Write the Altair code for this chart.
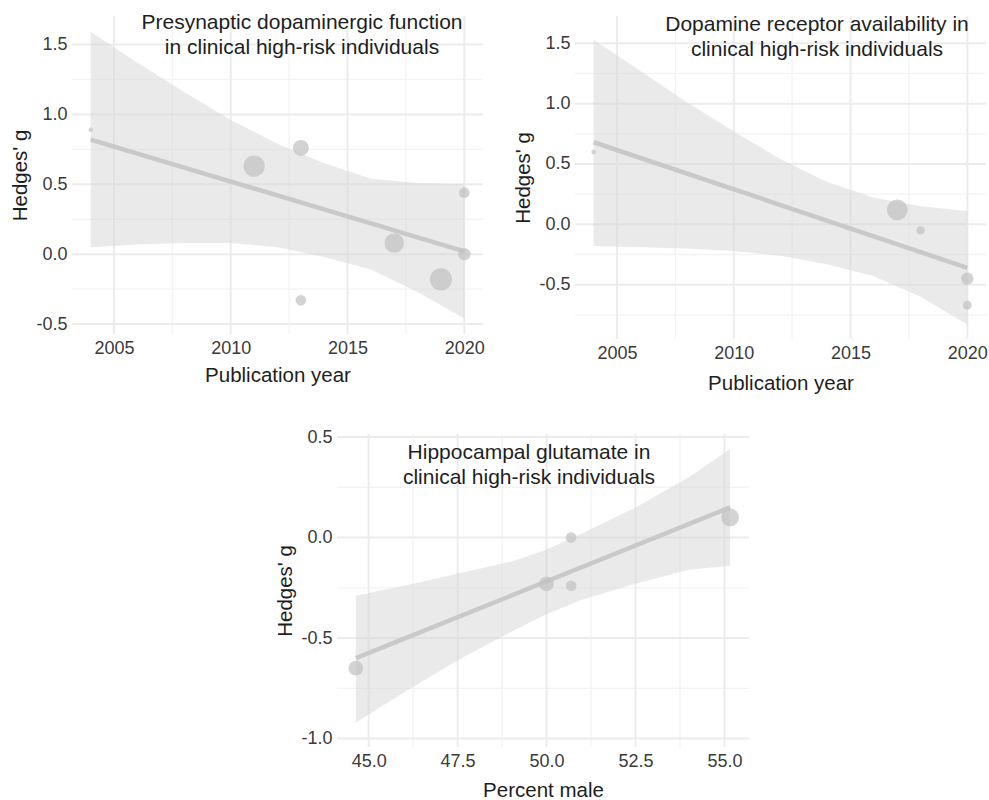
import altair as alt
import pandas as pd

FONT = "Liberation Sans"

# ---------------- Panel A: presynaptic dopaminergic function ----------------
a_year = [2004, 2011, 2013, 2013, 2017, 2019, 2020, 2020]
a_g = [0.89, 0.63, 0.76, -0.33, 0.08, -0.18, 0.44, 0.00]
a_w = [6, 144, 81, 36, 121, 156, 36, 49]
a_fit_x = [2004, 2020]
a_fit_y = [0.82, 0.02]
a_band_x = [2004, 2006, 2008, 2010, 2012, 2014, 2016, 2018, 2020]
a_band_hi = [1.59, 1.37, 1.16, 0.96, 0.79, 0.65, 0.54, 0.51, 0.50]
a_band_lo = [0.05, 0.07, 0.08, 0.08, 0.05, -0.02, -0.11, -0.27, -0.46]
a_title = ["Presynaptic dopaminergic function", "in clinical high-risk individuals"]

# ---------------- Panel B: dopamine receptor availability ----------------
b_year = [2004, 2017, 2018, 2020, 2020]
b_g = [0.60, 0.12, -0.05, -0.45, -0.67]
b_w = [7, 137, 22, 49, 25]
b_fit_x = [2004, 2020]
b_fit_y = [0.68, -0.36]
b_band_x = [2004, 2006, 2008, 2010, 2012, 2014, 2016, 2018, 2020]
b_band_hi = [1.53, 1.27, 1.01, 0.77, 0.54, 0.35, 0.22, 0.15, 0.11]
b_band_lo = [-0.18, -0.19, -0.20, -0.22, -0.26, -0.33, -0.43, -0.60, -0.83]
b_title = ["Dopamine receptor availability in", "clinical high-risk individuals"]

# ---------------- Panel C: hippocampal glutamate ----------------
c_male = [44.64, 50.0, 50.69, 50.69, 55.16]
c_g = [-0.65, -0.23, 0.00, -0.24, 0.10]
c_w = [69, 69, 36, 36, 100]
c_fit_x = [44.64, 55.16]
c_fit_y = [-0.60, 0.15]
c_band_x = [44.64, 46.0, 47.5, 49.0, 50.0, 51.0, 52.5, 54.0, 55.16]
c_band_hi = [-0.29, -0.24, -0.18, -0.12, -0.06, 0.02, 0.15, 0.30, 0.44]
c_band_lo = [-0.92, -0.77, -0.61, -0.47, -0.38, -0.31, -0.23, -0.16, -0.14]
c_title = ["Hippocampal glutamate in", "clinical high-risk individuals"]

year_major = [2005, 2010, 2015, 2020]
year_minor = [2007.5, 2012.5, 2017.5]
male_major = [45.0, 47.5, 50.0, 52.5, 55.0]
male_minor = [46.25, 48.75, 51.25, 53.75]

Y_LABEL = "datum.value < 0 ? '-' + format(-datum.value, '.1f') : format(datum.value, '.1f')"


def panel(px, py, pw, fx, fy, bx, blo, bhi, xdom, ydom, xmaj, xmin, ymaj, ymin,
          xtitle, xlabel, title_lines, tx, ty, width, height, xtpad):
    xs = alt.Scale(domain=xdom, nice=False, zero=False)
    ys = alt.Scale(domain=ydom, nice=False, zero=False)
    xaxis = alt.Axis(values=xmaj, grid=False, ticks=False, tickSize=0, domain=False,
                     labelExpr=xlabel, title=xtitle, labelFontSize=18, titleFontSize=20.5,
                     labelPadding=5, titlePadding=xtpad, labelFlush=False, labelOverlap=False,
                     labelColor="#3a3a3a", titleColor="#1e1e1e", titleFontWeight="normal",
                     labelFont=FONT, titleFont=FONT)
    yaxis = alt.Axis(values=ymaj, grid=False, ticks=False, tickSize=0, domain=False,
                     labelExpr=Y_LABEL, title="Hedges' g", labelFontSize=18, titleFontSize=20.5,
                     labelPadding=5, titlePadding=5, labelOverlap=False,
                     labelColor="#3a3a3a", titleColor="#1e1e1e", titleFontWeight="normal",
                     labelFont=FONT, titleFont=FONT)

    def X(f="x"):
        return alt.X(f"{f}:Q", scale=xs, axis=xaxis)

    def Y(f="y"):
        return alt.Y(f"{f}:Q", scale=ys, axis=yaxis)

    gx_major = alt.Chart(pd.DataFrame({"x": xmaj})).mark_rule(color="#ececec", strokeWidth=2).encode(x=X())
    gx_minor = alt.Chart(pd.DataFrame({"x": xmin})).mark_rule(color="#f3f3f3", strokeWidth=1.3).encode(x=X())
    gy_major = alt.Chart(pd.DataFrame({"y": ymaj})).mark_rule(color="#ececec", strokeWidth=2).encode(y=Y())
    gy_minor = alt.Chart(pd.DataFrame({"y": ymin})).mark_rule(color="#f3f3f3", strokeWidth=1.3).encode(y=Y())

    band = alt.Chart(pd.DataFrame({"x": bx, "lo": blo, "hi": bhi})).mark_area(
        color="#d6d6d6", opacity=0.5).encode(x=X(), y=Y("lo"), y2="hi:Q")
    line = alt.Chart(pd.DataFrame({"x": fx, "y": fy})).mark_line(
        color="#c9c9c9", strokeWidth=4.5).encode(x=X(), y=Y())
    pts = alt.Chart(pd.DataFrame({"x": px, "y": py, "w": pw})).mark_circle(
        color="#c0c0c0", opacity=0.7).encode(
        x=X(), y=Y(),
        size=alt.Size("w:Q", scale=alt.Scale(domain=[0, 100], range=[0, 314]), legend=None))
    title = alt.Chart(pd.DataFrame({"t": [0]})).mark_text(
        text=title_lines, font=FONT, fontSize=21, lineHeight=25, align="center",
        baseline="alphabetic", color="#1e1e1e").encode(x=alt.value(tx), y=alt.value(ty))

    return alt.layer(gx_minor, gy_minor, gx_major, gy_major, band, line, pts, title).properties(
        width=width, height=height)


pA = panel(a_year, a_g, a_w, a_fit_x, a_fit_y, a_band_x, a_band_lo, a_band_hi,
           [2003.2, 2020.8], [-0.571, 1.704], year_major, year_minor,
           [-0.5, 0.0, 0.5, 1.0, 1.5], [-0.25, 0.25, 0.75, 1.25],
           "Publication year", "format(datum.value, 'd')", a_title, 230, 13, 411, 318, 8)

pB = panel(b_year, b_g, b_w, b_fit_x, b_fit_y, b_band_x, b_band_lo, b_band_hi,
           [2003.2, 2020.8], [-0.95, 1.726], year_major, year_minor,
           [-0.5, 0.0, 0.5, 1.0, 1.5], [-0.75, -0.25, 0.25, 0.75, 1.25],
           "Publication year", "format(datum.value, 'd')", b_title, 242, 15, 411, 323, 11)

pC = panel(c_male, c_g, c_w, c_fit_x, c_fit_y, c_band_x, c_band_lo, c_band_hi,
           [44.11, 55.69], [-1.042, 0.515], male_major, male_minor,
           [-1.0, -0.5, 0.0, 0.5], [-0.75, -0.25, 0.25],
           "Percent male", "format(datum.value, '.1f')", c_title, 192, 25, 412, 313, 10)

spacer = alt.Chart(pd.DataFrame({"v": [0]})).mark_point(opacity=0).properties(width=1, height=1)

top = alt.hconcat(pA, pB, spacing=92, bounds="flush")
bottom = alt.hconcat(spacer, pC, spacing=264, bounds="flush")
chart = alt.vconcat(top, bottom, spacing=34).properties(
    padding={"left": 10, "top": 12, "right": 0, "bottom": 0}
).configure(font=FONT).configure_view(stroke=None)

chart.save("out.html", embed_options={"renderer": "svg", "actions": False})
